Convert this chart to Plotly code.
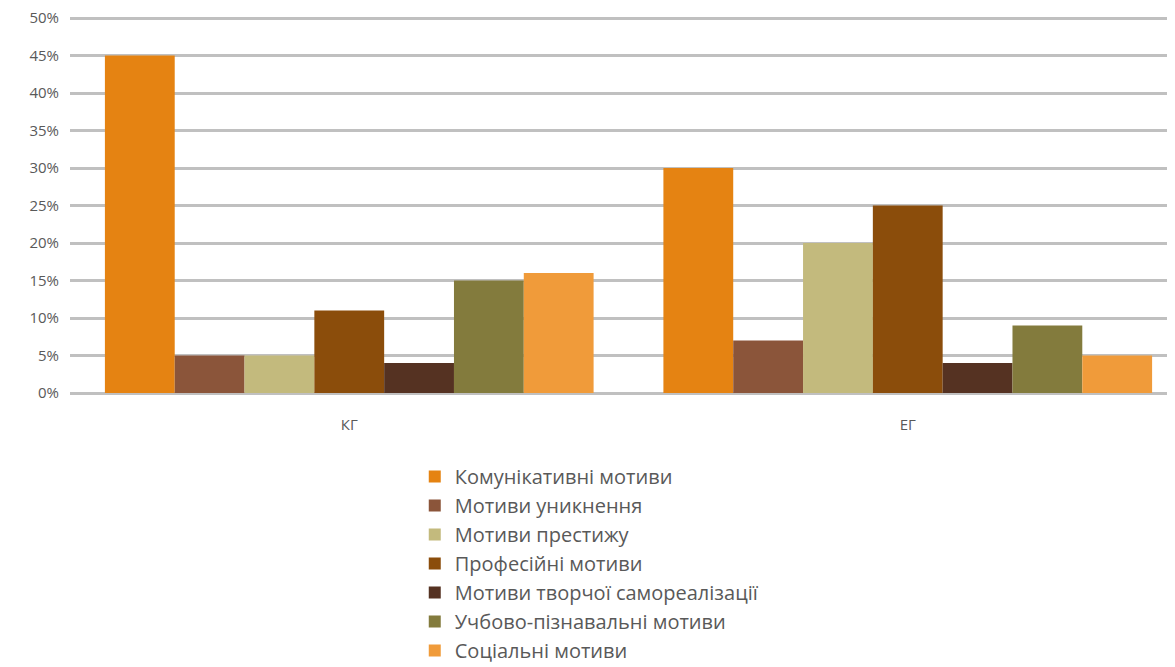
import plotly.graph_objects as go

categories = ["КГ", "ЕГ"]
series_names = [
    "Комунікативні мотиви",
    "Мотиви уникнення",
    "Мотиви престижу",
    "Професійні мотиви",
    "Мотиви творчої самореалізації",
    "Учбово-пізнавальні мотиви",
    "Соціальні мотиви",
]
kg_values = [0.45, 0.05, 0.05, 0.11, 0.04, 0.15, 0.16]
eg_values = [0.30, 0.07, 0.20, 0.25, 0.04, 0.09, 0.05]
colors = ["#E58312", "#8B553A", "#C3BA7D", "#8B4D0B", "#553222", "#837B3D", "#F09B3A"]
y_ticks = [0, 0.05, 0.10, 0.15, 0.20, 0.25, 0.30, 0.35, 0.40, 0.45, 0.50]

fig = go.Figure()
for name, kg, eg, col in zip(series_names, kg_values, eg_values, colors):
    fig.add_trace(go.Bar(
        x=categories, y=[kg, eg], name=name,
        marker=dict(color=col, line=dict(width=0)),
    ))

font_family = "Open Sans, Noto Sans, sans-serif"
fig.update_layout(
    width=1167, height=659,
    barmode="group", bargap=0.125, bargroupgap=0,
    paper_bgcolor="white", plot_bgcolor="white",
    margin=dict(l=62, r=0, t=9, b=274, autoexpand=False),
    font=dict(family=font_family, size=15, color="#595959"),
    xaxis=dict(range=[-0.5, 1.4785], showgrid=False, showline=False,
               ticks="", ticklabelstandoff=21,
               tickfont=dict(size=15, color="#595959")),
    yaxis=dict(range=[0, 0.5015], tickvals=y_ticks, tickformat=".0%",
               showgrid=True, gridcolor="#C0C0C0", gridwidth=2.5,
               zeroline=True, zerolinecolor="#C0C0C0", zerolinewidth=2.5,
               showline=False, ticks="", ticklabelstandoff=10,
               ticklabeloverflow="allow",
               tickfont=dict(size=15, color="#595959")),
    legend=dict(orientation="v", x=0.312, xanchor="left", y=-0.170, yanchor="top",
                font=dict(size=20, color="#595959"), tracegroupgap=0,
                itemwidth=30, traceorder="normal", bgcolor="rgba(0,0,0,0)"),
    showlegend=True,
)

fig.write_html("out.html")
